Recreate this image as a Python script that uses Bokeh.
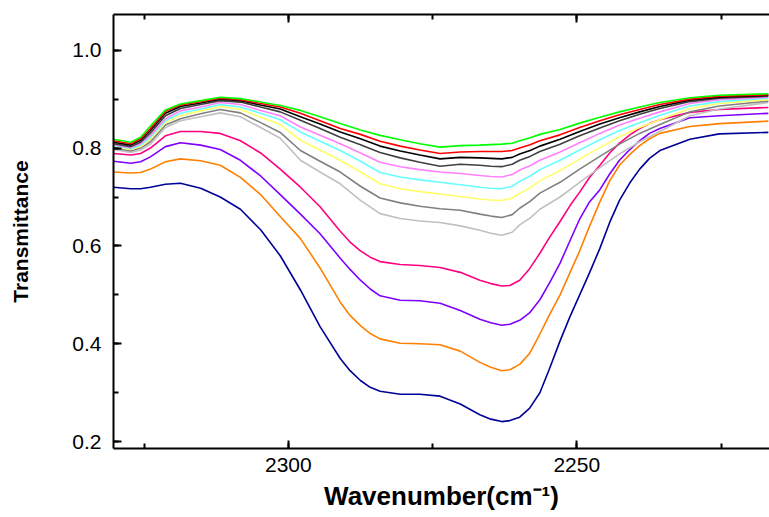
from bokeh.plotting import figure
from bokeh.models import (Range1d, LinearAxis, SingleIntervalTicker, PrintfTickFormatter,
                          CustomJSTickFormatter)
from bokeh.embed import file_html
from bokeh.resources import INLINE

# Wavenumber grid (cm-1)
wavenumber = [2330.3, 2327.3, 2325.6, 2323.9, 2321.3, 2318.7, 2315.2, 2311.8, 2308.3,
              2304.8, 2301.4, 2297.9, 2294.5, 2291.0, 2287.5, 2284.1, 2280.6, 2277.2,
              2273.7, 2270.2, 2266.8, 2264.9, 2263.0, 2261.2, 2259.9, 2258.1, 2256.4,
              2252.9, 2249.5, 2246.0, 2242.6, 2239.1, 2235.6, 2230.4, 2225.3, 2216.8]

# denser grid for the four deep curves
wavenumber_deep = [2330.3, 2327.3, 2325.6, 2323.9, 2321.3, 2318.7, 2315.2, 2311.8, 2308.3,
                   2304.8, 2301.4, 2297.9, 2294.5, 2291.0, 2289.3, 2287.5, 2285.8, 2284.1,
                   2280.6, 2277.2, 2273.7, 2270.2, 2266.8, 2264.9, 2263.0, 2261.6, 2259.9,
                   2258.2, 2256.4, 2254.7, 2252.9, 2251.2, 2249.5, 2247.8, 2246.0, 2244.3,
                   2242.6, 2240.8, 2239.1, 2237.4, 2235.6, 2230.4, 2225.3, 2216.8]

green = [0.818, 0.812, 0.822, 0.845, 0.878, 0.890, 0.897, 0.904, 0.901, 0.894, 0.887,
         0.877, 0.864, 0.850, 0.837, 0.826, 0.817, 0.809, 0.802, 0.805, 0.806, 0.807,
         0.808, 0.810, 0.815, 0.821, 0.828, 0.838, 0.851, 0.863, 0.874, 0.884, 0.893,
         0.903, 0.908, 0.911]
red = [0.815, 0.809, 0.819, 0.840, 0.875, 0.888, 0.895, 0.902, 0.899, 0.891, 0.884,
       0.871, 0.856, 0.840, 0.828, 0.814, 0.804, 0.796, 0.789, 0.792, 0.793, 0.793,
       0.793, 0.795, 0.800, 0.807, 0.815, 0.827, 0.842, 0.856, 0.868, 0.879, 0.889,
       0.900, 0.906, 0.909]
black = [0.812, 0.806, 0.816, 0.836, 0.871, 0.885, 0.892, 0.900, 0.897, 0.888, 0.880,
         0.864, 0.849, 0.833, 0.819, 0.804, 0.794, 0.786, 0.778, 0.781, 0.780, 0.779,
         0.778, 0.781, 0.788, 0.795, 0.804, 0.818, 0.834, 0.849, 0.862, 0.874, 0.885,
         0.898, 0.904, 0.908]
dark_gray = [0.809, 0.803, 0.812, 0.831, 0.866, 0.881, 0.889, 0.897, 0.894, 0.884, 0.874,
             0.857, 0.840, 0.822, 0.807, 0.791, 0.780, 0.771, 0.763, 0.767, 0.765, 0.763,
             0.762, 0.767, 0.775, 0.783, 0.793, 0.808, 0.825, 0.841, 0.856, 0.869, 0.881,
             0.895, 0.902, 0.906]
pink = [0.807, 0.801, 0.809, 0.826, 0.860, 0.876, 0.884, 0.893, 0.889, 0.877, 0.866,
        0.843, 0.826, 0.809, 0.790, 0.771, 0.762, 0.756, 0.751, 0.748, 0.744, 0.742,
        0.741, 0.746, 0.755, 0.764, 0.775, 0.792, 0.811, 0.830, 0.847, 0.861, 0.874,
        0.891, 0.899, 0.904]
cyan = [0.805, 0.799, 0.806, 0.822, 0.856, 0.871, 0.880, 0.889, 0.884, 0.871, 0.858,
        0.833, 0.814, 0.795, 0.773, 0.750, 0.741, 0.735, 0.730, 0.725, 0.720, 0.718,
        0.717, 0.722, 0.732, 0.743, 0.756, 0.775, 0.796, 0.817, 0.836, 0.852, 0.867,
        0.886, 0.895, 0.902]
yellow = [0.803, 0.797, 0.803, 0.818, 0.852, 0.866, 0.876, 0.885, 0.879, 0.863, 0.848,
          0.816, 0.796, 0.775, 0.751, 0.727, 0.717, 0.711, 0.706, 0.701, 0.696, 0.694,
          0.693, 0.698, 0.708, 0.719, 0.733, 0.754, 0.778, 0.801, 0.823, 0.842, 0.858,
          0.881, 0.891, 0.899]
gray = [0.800, 0.794, 0.800, 0.813, 0.847, 0.860, 0.870, 0.879, 0.872, 0.852, 0.832,
        0.795, 0.773, 0.751, 0.722, 0.698, 0.688, 0.681, 0.676, 0.673, 0.665, 0.661,
        0.658, 0.664, 0.677, 0.691, 0.708, 0.730, 0.757, 0.783, 0.808, 0.830, 0.848,
        0.874, 0.886, 0.896]
light_gray = [0.797, 0.791, 0.796, 0.808, 0.842, 0.856, 0.864, 0.872, 0.864, 0.842, 0.820,
              0.775, 0.751, 0.727, 0.693, 0.666, 0.656, 0.651, 0.648, 0.641, 0.632, 0.626,
              0.622, 0.628, 0.643, 0.657, 0.675, 0.700, 0.730, 0.760, 0.788, 0.813, 0.834,
              0.866, 0.880, 0.893]

magenta = [0.789, 0.786, 0.789, 0.800, 0.825, 0.834, 0.834, 0.830, 0.815, 0.790, 0.757,
           0.720, 0.680, 0.630, 0.608, 0.590, 0.577, 0.568, 0.562, 0.560, 0.556, 0.546,
           0.530, 0.523, 0.518, 0.519, 0.530, 0.553, 0.585, 0.618, 0.650, 0.682, 0.710,
           0.740, 0.765, 0.790, 0.810, 0.827, 0.840, 0.850, 0.858, 0.873, 0.879, 0.883]
violet = [0.773, 0.769, 0.772, 0.782, 0.803, 0.811, 0.806, 0.797, 0.775, 0.743, 0.705,
          0.665, 0.625, 0.575, 0.552, 0.530, 0.512, 0.498, 0.489, 0.488, 0.483, 0.468,
          0.450, 0.443, 0.438, 0.440, 0.448, 0.463, 0.490, 0.525, 0.565, 0.610, 0.655,
          0.690, 0.715, 0.747, 0.775, 0.797, 0.815, 0.830, 0.840, 0.862, 0.866, 0.871]
orange = [0.751, 0.749, 0.750, 0.757, 0.772, 0.778, 0.774, 0.765, 0.740, 0.705, 0.660,
          0.615, 0.555, 0.485, 0.458, 0.437, 0.421, 0.410, 0.401, 0.400, 0.398, 0.385,
          0.362, 0.352, 0.345, 0.347, 0.358, 0.380, 0.420, 0.460, 0.500, 0.545, 0.590,
          0.640, 0.690, 0.733, 0.765, 0.787, 0.805, 0.819, 0.830, 0.844, 0.850, 0.855]
navy = [0.720, 0.717, 0.717, 0.720, 0.726, 0.728, 0.718, 0.700, 0.675, 0.633, 0.580,
        0.510, 0.435, 0.370, 0.345, 0.325, 0.311, 0.303, 0.297, 0.297, 0.293, 0.277,
        0.255, 0.246, 0.241, 0.243, 0.250, 0.268, 0.300, 0.350, 0.406, 0.455, 0.500,
        0.545, 0.595, 0.648, 0.693, 0.729, 0.757, 0.779, 0.795, 0.818, 0.829, 0.832]

deep_series = [navy, orange, violet, magenta]
deep_colors = ["#000099", "#FF8000", "#8000FF", "#FF0080"]
upper_series = [light_gray, gray, yellow, cyan, pink, dark_gray, black, red, green]
upper_colors = ["#C0C0C0", "#808080", "#FFFF66", "#66FFFF", "#FF80FF", "#404040",
                "#000000", "#FF0000", "#00FF00"]

FONT = "Liberation Sans"

p = figure(width=769, height=517, output_backend="svg", toolbar_location=None,
           x_range=Range1d(2330.3, 2216.6), y_range=Range1d(0.186, 1.073),
           min_border_left=113, min_border_right=0, min_border_top=14,
           min_border_bottom=69, background_fill_color="white")
p.grid.visible = False
p.outline_line_color = None

for ys, c in zip(deep_series, deep_colors):
    p.line(wavenumber_deep, ys, line_color=c, line_width=1.6)
for ys, c in zip(upper_series, upper_colors):
    p.line(wavenumber, ys, line_color=c, line_width=1.6)


def style(ax):
    ax.axis_line_width = 2
    ax.axis_line_color = "black"
    ax.major_tick_in = 8
    ax.major_tick_out = 0
    ax.minor_tick_in = 5
    ax.minor_tick_out = 0
    ax.major_tick_line_width = 2
    ax.minor_tick_line_width = 2
    ax.major_tick_line_color = "black"
    ax.minor_tick_line_color = "black"
    ax.major_label_text_font = FONT
    ax.major_label_text_font_size = "21px"
    ax.major_label_text_color = "black"
    ax.axis_label_text_font = FONT
    ax.axis_label_text_font_style = "bold"
    ax.axis_label_text_color = "black"


xa = p.xaxis[0]
xa.ticker = SingleIntervalTicker(interval=50, num_minor_ticks=2)
style(xa)
xa.axis_label = "Wavenumber(cm\u207b\u00b9)"
xa.axis_label_text_font_size = "26px"
xa.major_label_standoff = 9
xa.axis_label_standoff = 6

ya = p.yaxis[0]
ya.ticker = SingleIntervalTicker(interval=0.2, num_minor_ticks=2)
ya.formatter = PrintfTickFormatter(format="%.1f")
style(ya)
ya.axis_label = "Transmittance"
ya.axis_label_text_font_size = "21px"
ya.major_label_standoff = 12
ya.axis_label_standoff = 37

top = LinearAxis(ticker=SingleIntervalTicker(interval=50, num_minor_ticks=2),
                 formatter=CustomJSTickFormatter(code="return ''"))
style(top)
top.major_label_standoff = 0
p.add_layout(top, "above")

open("out.html", "w").write(file_html(p, INLINE))
